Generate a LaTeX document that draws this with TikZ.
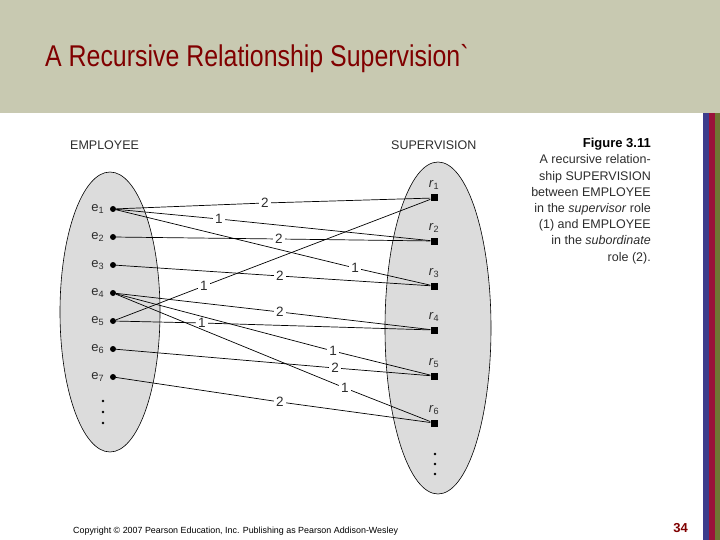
\documentclass[tikz,border=0pt]{standalone}
\usepackage{fontspec}
\setmainfont{Liberation Sans}
\newfontfamily\titlefont{Liberation Sans}[Ligatures=ResetAll]
\definecolor{banner}{RGB}{200,201,177}
\definecolor{titlered}{RGB}{128,0,0}
\definecolor{stripeblue}{RGB}{60,60,140}
\definecolor{stripered}{RGB}{153,18,58}
\definecolor{stripeolive}{RGB}{110,117,51}
\definecolor{setgray}{RGB}{220,220,220}
\definecolor{captext}{RGB}{45,45,45}
\tikzset{
  setell/.style={draw=black, line width=0.6pt, fill=setgray},
  edot/.style={circle, fill=black, inner sep=0pt, minimum size=6pt},
  rsq/.style={rectangle, fill=black, inner sep=0pt, minimum size=7pt},
  lab/.style={fill=white, inner sep=2.2pt, font=\fontsize{13.5}{15}\selectfont, text=captext},
  conn/.style={draw=black, line width=0.7pt},
  smalldot/.style={circle, fill=black, inner sep=0pt, minimum size=2.6pt},
  elab/.style={font=\fontsize{13}{15}\selectfont, text=captext},
}
\begin{document}
\begin{tikzpicture}[x=1pt,y=-1pt]
\useasboundingbox (0,0) rectangle (720,540);
\fill[white] (0,0) rectangle (720,540);
% banner
\fill[banner] (0,0) rectangle (720,113);
% stripes
\fill[stripeblue] (703,113) rectangle (709,540);
\fill[stripered] (709,113) rectangle (715,540);
\fill[stripeolive] (715,113) rectangle (720,540);
% title
\node[anchor=base west, text=titlered, font=\titlefont\fontsize{30}{34}\selectfont, inner sep=0pt] (title) at (45,67) {\scalebox{0.83}[1]{A Recursive Relationship Supervision`}};
% set ellipses
\fill[setell] (110,312) ellipse [x radius=50, y radius=140];
\fill[setell] (438,328) ellipse [x radius=53, y radius=166];
% headings
\node[anchor=base west, inner sep=0pt, font=\fontsize{12.5}{14}\selectfont, text=captext] (emp) at (70,150) {EMPLOYEE};
\node[anchor=base west, inner sep=0pt, font=\fontsize{12.5}{14}\selectfont, text=captext] (sup) at (391,150) {SUPERVISION};
% caption
\node[anchor=north east, align=right, inner sep=0pt, font=\fontsize{12.5}{16.2}\selectfont, text=captext] (cap) at (651,138)
 {\textbf{\color{black}\fontsize{13}{16.2}\selectfont Figure 3.11}\\A recursive relation-\\ship SUPERVISION\\between EMPLOYEE\\in the \textit{supervisor} role\\(1) and EMPLOYEE\\in the \textit{subordinate}\\role (2).};
% employees
\foreach \i/\y in {1/209,2/237,3/265,4/293,5/321,6/349,7/377}{
  \node[edot, label={[elab, label distance=2pt]left:e\textsubscript{\i}}] (e\i) at (113,\y) {};
}
\node[smalldot] (ed1) at (103,401) {};
\node[smalldot] (ed2) at (103,412) {};
\node[smalldot] (ed3) at (103,423) {};
% relationship instances
\foreach \i/\y in {1/198,2/241,3/286,4/330,5/376,6/423}{
  \node[rsq, label={[elab, label distance=1pt]above:\textit{r}\textsubscript{\i}}] (r\i) at (434,\y) {};
}
\node[smalldot] (rd1) at (435,454) {};
\node[smalldot] (rd2) at (435,464) {};
\node[smalldot] (rd3) at (435,474) {};
% role labels
\node[lab] (a1) at (265,203) {2};
\node[lab] (b1) at (204,286) {1};
\node[lab] (a2) at (279,239) {2};
\node[lab] (b2) at (219,219) {1};
\node[lab] (a3) at (280,276) {2};
\node[lab] (b3) at (355,268) {1};
\node[lab] (a4) at (280,312) {2};
\node[lab] (b4) at (202,323) {1};
\node[lab] (a5) at (335,368) {2};
\node[lab] (b5) at (333,351) {1};
\node[lab] (a6) at (280,402) {2};
\node[lab] (b6) at (345,388) {1};
% connectors
\draw[conn] (e1) -- (a1) -- (r1);
\draw[conn] (e5) -- (b1) -- (r1);
\draw[conn] (e2) -- (a2) -- (r2);
\draw[conn] (e1) -- (b2) -- (r2);
\draw[conn] (e3) -- (a3) -- (r3);
\draw[conn] (e1) -- (b3) -- (r3);
\draw[conn] (e4) -- (a4) -- (r4);
\draw[conn] (e5) -- (b4) -- (r4);
\draw[conn] (e6) -- (a5) -- (r5);
\draw[conn] (e4) -- (b5) -- (r5);
\draw[conn] (e7) -- (a6) -- (r6);
\draw[conn] (e4) -- (b6) -- (r6);
% footer
\node[anchor=base west, inner sep=0pt, font=\fontsize{8.9}{10}\selectfont] (copy) at (73,533) {Copyright © 2007 Pearson Education, Inc. Publishing as Pearson Addison-Wesley};
\node[anchor=base east, inner sep=0pt, font=\bfseries\fontsize{13}{15}\selectfont, text=titlered] (pg) at (688,532) {34};
\end{tikzpicture}
\end{document}
